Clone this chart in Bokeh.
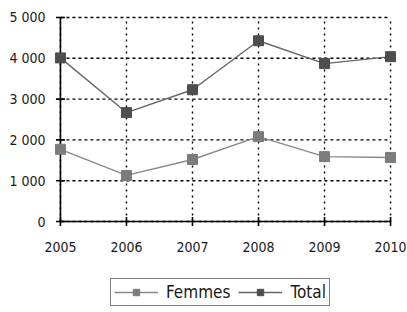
import math
from bokeh.plotting import figure
from bokeh.layouts import column
from bokeh.models import Range1d, FixedTicker, Legend, LegendItem
from bokeh.embed import file_html
from bokeh.resources import INLINE

years = [2005, 2006, 2007, 2008, 2009, 2010]
femmes = [1770, 1130, 1520, 2080, 1590, 1570]
total = [4010, 2670, 3230, 4430, 3870, 4040]
y_ticks = [0, 1000, 2000, 3000, 4000, 5000]
y_tick_labels = ["0", "1 000", "2 000", "3 000", "4 000", "5 000"]
series_names = ["Femmes", "Total"]

FONT = "DejaVu Sans Condensed"
C_FEM_LINE, C_FEM_MARK = "#888888", "#7c7c7c"
C_TOT_LINE, C_TOT_MARK = "#666666", "#4e4e4e"

p = figure(frame_width=342, frame_height=216, output_backend="svg", toolbar_location=None,
           x_range=Range1d(2004.91, 2010.09), y_range=Range1d(-147, 5147),
           min_border_left=54, min_border_right=11, min_border_top=11, min_border_bottom=35)
p.outline_line_color = None
p.background_fill_color = "white"
p.xgrid.visible = False
p.ygrid.visible = False

# grid lines from the tick arrays
p.segment(x0=years, y0=[y_ticks[0]] * len(years), x1=years, y1=[y_ticks[-1]] * len(years),
          line_color="black", line_dash="2 4", line_width=1.4)
p.segment(x0=[years[0]] * len(y_ticks), y0=y_ticks, x1=[years[-1]] * len(y_ticks), y1=y_ticks,
          line_color="black", line_dash="3 3", line_width=1.4)

# axis lines and tick marks
p.segment(x0=[years[0], years[0]], y0=[y_ticks[0], y_ticks[0]],
          x1=[years[-1], years[0]], y1=[y_ticks[0], y_ticks[-1]],
          line_color="black", line_width=1.6)
p.scatter(x=[years[0]] * len(y_ticks), y=y_ticks, marker="dash", size=9,
          line_color="black", line_width=1.6)
p.scatter(x=years, y=[y_ticks[0]] * len(years), marker="dash", size=9, angle=math.pi / 2,
          line_color="black", line_width=1.6)

for ax in (p.xaxis, p.yaxis):
    ax.axis_line_color = None
    ax.major_tick_line_color = None
    ax.minor_tick_line_color = None
    ax.major_tick_in = 0
    ax.major_tick_out = 0
    ax.major_label_text_font = FONT
    ax.major_label_text_font_size = "14px"
    ax.major_label_text_color = "#1a1a1a"

p.xaxis.ticker = FixedTicker(ticks=years)
p.xaxis.major_label_overrides = {y: str(y) for y in years}
p.xaxis.major_label_standoff = 14
p.yaxis.ticker = FixedTicker(ticks=y_ticks)
p.yaxis.major_label_overrides = dict(zip(y_ticks, y_tick_labels))
p.yaxis.major_label_standoff = 9

p.line(years, femmes, line_color=C_FEM_LINE, line_width=1.4)
p.scatter(years, femmes, marker="square", size=10, fill_color=C_FEM_MARK, line_color=C_FEM_MARK)
p.line(years, total, line_color=C_TOT_LINE, line_width=1.4)
p.scatter(years, total, marker="square", size=10, fill_color=C_TOT_MARK, line_color=C_TOT_MARK)

# legend strip below the chart (its renderers lie outside its own view)
lg = figure(width=407, height=50, output_backend="svg", toolbar_location=None,
            x_range=Range1d(0, 1), y_range=Range1d(0, 1),
            min_border_left=0, min_border_right=0, min_border_top=0, min_border_bottom=0,
            x_axis_location=None, y_axis_location=None)
lg.outline_line_color = None
lg.xgrid.visible = False
lg.ygrid.visible = False
r1l = lg.line(years, femmes, line_color=C_FEM_LINE, line_width=1.4)
r1m = lg.scatter(years, femmes, marker="square", size=11, fill_color=C_FEM_MARK, line_color=C_FEM_MARK)
r2l = lg.line(years, total, line_color=C_TOT_LINE, line_width=1.4)
r2m = lg.scatter(years, total, marker="square", size=11, fill_color=C_TOT_MARK, line_color=C_TOT_MARK)

legend = Legend(items=[LegendItem(label=series_names[0], renderers=[r1l, r1m]),
                       LegendItem(label=series_names[1], renderers=[r2l, r2m])],
                orientation="horizontal", location=(56, 6),
                border_line_color="black", border_line_width=1.3,
                label_text_font=FONT, label_text_font_size="17px",
                label_text_color="#1a1a1a",
                glyph_width=44, glyph_height=16, spacing=8, padding=3, margin=0,
                label_standoff=8)
lg.add_layout(legend)

open("out.html", "w").write(file_html(column(p, lg), INLINE))
